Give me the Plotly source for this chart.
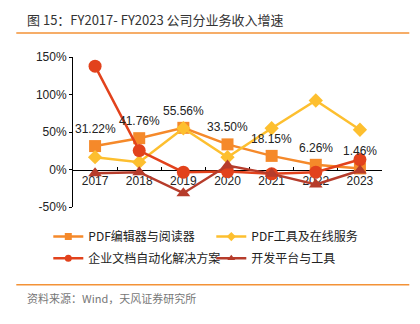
import plotly.graph_objects as go

years = ["2017", "2018", "2019", "2020", "2021", "2022", "2023"]
editor = [31.22, 41.76, 55.56, 33.50, 18.15, 6.26, 1.46]
editor_labels = ["31.22%", "41.76%", "55.56%", "33.50%", "18.15%", "6.26%", "1.46%"]
online = [16.4, 9.8, 55.0, 16.4, 55.0, 92.0, 53.0]
enterprise = [137.8, 25.3, -3.6, -2.7, -5.8, -3.6, 13.3]
platform = [-4.9, -3.6, -31.6, 5.3, -5.8, -20.0, -1.3]

names = ["PDF编辑器与阅读器", "PDF工具及在线服务", "企业文档自动化解决方案", "开发平台与工具"]
colors = ["#F5892A", "#FDBF2F", "#E2421C", "#B63C2B"]
symbols = ["square", "diamond", "circle", "triangle-up"]
sizes = [12, 11, 13, 12]
series = [editor, online, enterprise, platform]

W, H = 420, 324
L, R, T, B = 72.7, 381.7, 56.5, 207.0
FONT = "Liberation Sans, Arial, Noto Sans CJK SC, sans-serif"

def px_x(x):
    return (x - L) / (R - L)

def px_y(y):
    return (B - y) / (B - T)

legend_ids = ["legend", "legend2", "legend3", "legend4"]
legend_pos = [(48, 236.7), (211, 236.7), (48, 258.3), (211, 258.3)]

fig = go.Figure()
for i, (name, col, sym, sz, vals) in enumerate(zip(names, colors, symbols, sizes, series)):
    fig.add_trace(go.Scatter(
        x=years, y=vals, mode="lines+markers", name=name,
        line=dict(color=col, width=2.5),
        marker=dict(symbol=sym, size=sz, color=col),
        showlegend=False, cliponaxis=False,
    ))
# legend-only entries with small markers
for i, (name, col, sym) in enumerate(zip(names, colors, symbols)):
    fig.add_trace(go.Scatter(
        x=[None], y=[None], mode="lines+markers", name=name,
        line=dict(color=col, width=2.5),
        marker=dict(symbol=sym, size=7, color=col),
        legend=legend_ids[i],
    ))

annotations = []
for i, (v, t) in enumerate(zip(editor, editor_labels)):
    annotations.append(dict(x=i, y=v, xref="x", yref="y", text=t, showarrow=False, yshift=17,
                            font=dict(family=FONT, size=12, color="#222")))

annotations.append(dict(x=px_x(25), y=px_y(19), xref="paper", yref="paper",
                        text="图 15：FY2017- FY2023 公司分业务收入增速", showarrow=False,
                        xanchor="left", yanchor="middle",
                        font=dict(family="Noto Sans CJK SC, sans-serif", size=13, color="#333")))
annotations.append(dict(x=px_x(25), y=px_y(298.5), xref="paper", yref="paper",
                        text="资料来源：Wind，天风证券研究所", showarrow=False,
                        xanchor="left", yanchor="middle",
                        font=dict(family="Noto Sans CJK SC, sans-serif", size=11, color="#777")))

shapes = [
    dict(type="line", xref="paper", yref="paper", x0=px_x(16), x1=px_x(409),
         y0=px_y(32.3), y1=px_y(32.3), line=dict(color="#F39236", width=1.5)),
    dict(type="line", xref="paper", yref="paper", x0=px_x(16), x1=px_x(409),
         y0=px_y(285), y1=px_y(285), line=dict(color="#F39236", width=1.5)),
]

legend_common = dict(xanchor="left", yanchor="middle", itemwidth=30,
                     font=dict(family="Noto Sans CJK SC, sans-serif", size=12, color="#222"),
                     bgcolor="rgba(0,0,0,0)")
legends = {}
for lid, (lx, ly) in zip(legend_ids, legend_pos):
    legends[lid] = dict(x=px_x(lx), y=px_y(ly), **legend_common)

fig.update_layout(
    width=W, height=H,
    margin=dict(l=L, r=W - R, t=T, b=H - B),
    paper_bgcolor="white", plot_bgcolor="white",
    font=dict(family=FONT, size=12, color="#222"),
    xaxis=dict(type="category", anchor="free", position=0.25,
               showline=True, linecolor="black", linewidth=1,
               ticks="inside", ticklen=3, tickcolor="black", tickson="boundaries",
               showgrid=False, zeroline=False, layer="below traces",
               tickfont=dict(family=FONT, size=12, color="#222"),
               range=[-0.5, 6.5]),
    yaxis=dict(range=[-50, 150], tickvals=[-50, 0, 50, 100, 150],
               ticktext=["-50%", "0%", "50%", "100%", "150%"],
               showline=True, linecolor="black", linewidth=1,
               ticks="outside", ticklen=3, tickcolor="black",
               showgrid=False, zeroline=False, layer="below traces",
               tickfont=dict(family=FONT, size=12, color="#222")),
    annotations=annotations,
    shapes=shapes,
    **legends,
)

fig.write_html("out.html")
